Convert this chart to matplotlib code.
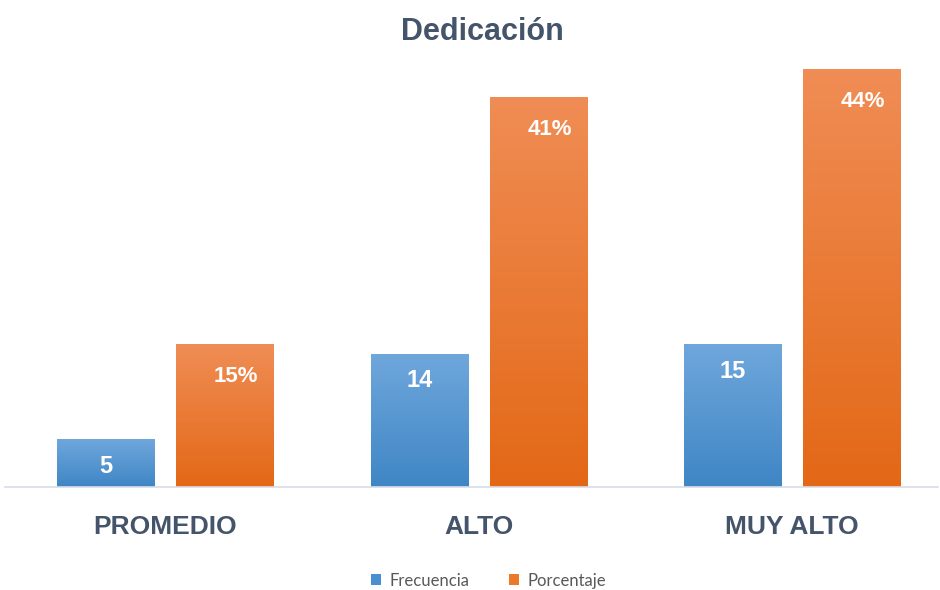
import numpy as np
import matplotlib
matplotlib.use("Agg")
import matplotlib.pyplot as plt
from matplotlib.colors import LinearSegmentedColormap
from matplotlib.patches import Patch

# ── Data ──
categories = ["PROMEDIO", "ALTO", "MUY ALTO"]
frecuencia = [5, 14, 15]
porcentaje = [15, 41, 44]
series_names = ["Frecuencia", "Porcentaje"]

plt.rcParams["font.family"] = ["Liberation Sans", "DejaVu Sans"]

fig = plt.figure(figsize=(9.4, 5.9), dpi=100)
ax = fig.add_axes([5 / 940, 103 / 590, 933 / 940, 427.5 / 590])

x = np.arange(len(categories))
width = 0.31
offset = 0.19

blue_cmap = LinearSegmentedColormap.from_list("b", ["#3f86c5", "#6fa7dc"])
orange_cmap = LinearSegmentedColormap.from_list("o", ["#e36816", "#f08d55"])

bars_f = ax.bar(x - offset, frecuencia, width, color="none", edgecolor="none")
bars_p = ax.bar(x + offset, porcentaje, width, color="none", edgecolor="none")

# ── Vertical gradient fill for each bar ──
grad = np.linspace(0, 1, 256).reshape(-1, 1)
for bars, cmap in [(bars_f, blue_cmap), (bars_p, orange_cmap)]:
    for b in bars:
        x0, w, h = b.get_x(), b.get_width(), b.get_height()
        ax.imshow(grad, extent=[x0, x0 + w, 0, h], origin="lower", cmap=cmap,
                  aspect="auto", zorder=2)

# ── Value labels inside bars ──
for b, val in zip(bars_f, frecuencia):
    ax.text(b.get_x() + b.get_width() / 2, b.get_height() - 2.8, str(val),
            ha="center", va="center", color="white", fontsize=17, fontweight="bold", zorder=3)
for b, val in zip(bars_p, porcentaje):
    ax.text(b.get_x() + b.get_width() / 2 + 0.035, b.get_height() - 3.4, f"{val}%",
            ha="center", va="center", color="white", fontsize=16, fontweight="bold", zorder=3)

ax.set_xlim(-0.512, 2.465)
ax.set_ylim(0, 45)
ax.set_yticks([])
ax.set_xticks(x)
ax.set_xticklabels(categories, fontsize=19, fontweight="bold", color="#44546a")
ax.tick_params(axis="x", length=0, pad=20)
for s in ["top", "right", "left"]:
    ax.spines[s].set_visible(False)
ax.spines["bottom"].set_color("#d9dde6")
ax.spines["bottom"].set_linewidth(1.2)

fig.text(0.513, 0.945, "Dedicación", ha="center", va="center", fontsize=22,
         fontweight="bold", color="#44546a")

handles = [Patch(facecolor="#4a8fd0"), Patch(facecolor="#ea7a2a")]
fig.legend(handles, series_names, loc="center", bbox_to_anchor=(0.52, 0.016), ncol=2,
           frameon=False, fontsize=12, handlelength=0.6, handleheight=0.6,
           handletextpad=0.5, columnspacing=2.4, labelcolor="#595959",
           prop={"family": ["Lato", "DejaVu Sans"], "size": 12})

fig.savefig("out.png", dpi=100)
